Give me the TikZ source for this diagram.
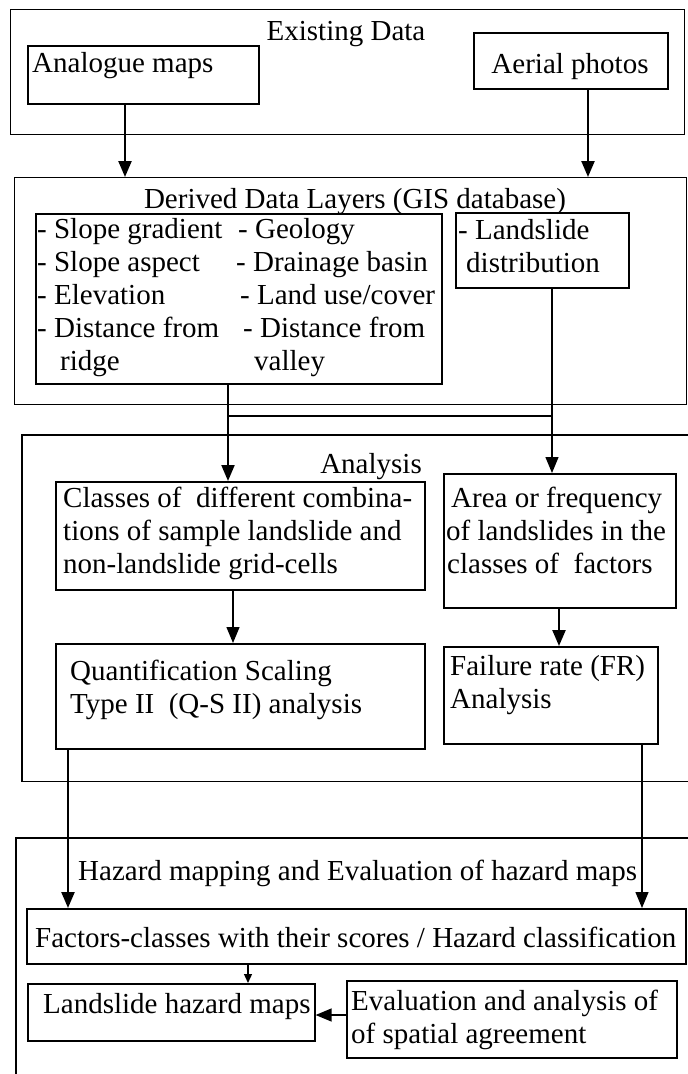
\documentclass[tikz,border=0pt]{standalone}
\usepackage{fontspec}
\setmainfont{Liberation Serif}
\usetikzlibrary{arrows.meta}
\begin{document}
\begin{tikzpicture}[x=1pt,y=-1pt,
  box/.style={draw, line width=1.6pt, inner sep=0pt, anchor=north west},
  region/.style={inner sep=0pt, anchor=north west},
  frame/.style={line width=1.1pt},
  txt/.style={inner sep=0pt, anchor=base west, font=\fontsize{29}{33}\selectfont},
  ctxt/.style={txt, anchor=base},
  etxt/.style={txt, anchor=base east},
  bigarrow/.style={line width=2.3pt, -{Triangle[length=16pt,width=13pt]}},
  thinarrow/.style={line width=1.3pt, -{Triangle[length=16pt,width=13pt]}},
  smallarrow/.style={line width=1.3pt, -{Triangle[length=9pt,width=8pt]}},
  link/.style={line width=1.3pt}]
\useasboundingbox (0,0) rectangle (688,1074);

% frames
\node[region, draw, frame, minimum width=674pt, minimum height=125pt] (existing) at (10,9) {};
\node[region, draw, frame, minimum width=672pt, minimum height=227pt] (derived) at (14,177) {};
\node[region, minimum width=666pt, minimum height=346pt] (analysis) at (22,435) {};
\draw[frame] (analysis.north east) -- (analysis.north west) -- (analysis.south west) -- (analysis.south east);
\node[region, minimum width=672pt, minimum height=236pt] (hazard) at (16,838) {};
\draw[frame] (hazard.north east) -- (hazard.north west) -- (hazard.south west);

% boxes
\node[box, minimum width=231pt, minimum height=58pt] (analogue) at (27,45) {};
\node[box, minimum width=194pt, minimum height=56pt] (aerial) at (473,32) {};
\node[box, minimum width=406pt, minimum height=170pt] (layers) at (35,213) {};
\node[box, minimum width=173pt, minimum height=75pt] (landslide) at (455,212) {};
\node[box, minimum width=369pt, minimum height=108pt] (classes) at (55,481) {};
\node[box, minimum width=232pt, minimum height=134pt] (area) at (443,473) {};
\node[box, minimum width=369pt, minimum height=105pt] (qs) at (55,643) {};
\node[box, minimum width=214pt, minimum height=97pt] (fr) at (443,646) {};
\node[box, minimum width=659pt, minimum height=55pt] (factors) at (26,908) {};
\node[box, minimum width=287pt, minimum height=57pt] (maps) at (27,983) {};
\node[box, minimum width=330pt, minimum height=77pt] (eval) at (346,980) {};

% texts
\node[ctxt] (t-existing) at (346,40) {Existing Data};
\node[txt] (t-analogue) at (32,72) {Analogue maps};
\node[ctxt] (t-aerial) at (570,73) {Aerial photos};
\node[ctxt] (t-derived) at (355,208) {Derived Data Layers (GIS database)};

\node[txt] (l1a) at (37,238) {- Slope gradient};
\node[txt] (l1b) at (238,238) {- Geology};
\node[txt] (l2a) at (37,271) {- Slope aspect};
\node[txt] (l2b) at (236,271) {- Drainage basin};
\node[txt] (l3a) at (37,304) {- Elevation};
\node[txt] (l3b) at (240,304) {- Land use/cover};
\node[txt] (l4a) at (37,337) {- Distance from};
\node[txt] (l4b) at (243,337) {- Distance from};
\node[txt] (l5a) at (60,370) {ridge};
\node[txt] (l5b) at (254,370) {valley};

\node[txt] (ls1) at (458,239) {- Landslide};
\node[txt] (ls2) at (466,272) {distribution};

\node[etxt] (t-analysis) at (422,473) {Analysis};
\node[txt] (c1) at (63,507) {Classes of\ \ different combina-};
\node[txt] (c2) at (63,540) {tions of sample landslide and};
\node[txt] (c3) at (63,573) {non-landslide grid-cells};

\node[txt] (a1) at (451,507) {Area or frequency};
\node[txt] (a2) at (446,540) {of landslides in the};
\node[txt] (a3) at (447,573) {classes of\ \ factors};

\node[txt] (q1) at (70,680) {Quantification Scaling};
\node[txt] (q2) at (70,713) {Type II\ \ (Q-S II) analysis};

\node[txt] (f1) at (450,675) {Failure rate (FR)};
\node[txt] (f2) at (450,708) {Analysis};

\node[txt] (t-hazard) at (78,880) {Hazard mapping and Evaluation of hazard maps};
\node[txt] (t-factors) at (35,947) {Factors-classes with their scores / Hazard classification};
\node[txt] (t-maps) at (43,1013) {Landslide hazard maps};
\node[txt] (e1) at (351,1010) {Evaluation and analysis of};
\node[txt] (e2) at (351,1043) {of spatial agreement};

% connector columns
\coordinate (xa) at (125,0);
\coordinate (xb) at (588,0);
\coordinate (xc) at (228,0);
\coordinate (xd) at (552,0);
\coordinate (xe) at (233,0);
\coordinate (xf) at (559,0);
\coordinate (xg) at (68,0);
\coordinate (xh) at (642,0);
\coordinate (xi) at (248,0);
\coordinate (yj) at (0,416);
\coordinate (yk) at (0,1015);
\coordinate (j1) at (xc |- yj);
\coordinate (j2) at (xd |- yj);

\draw[bigarrow] (xa |- analogue.south) -- (xa |- derived.north);
\draw[bigarrow] (xb |- aerial.south) -- (xb |- derived.north);
\draw[bigarrow, line width=2pt] (xc |- layers.south) -- (xc |- classes.north);
\draw[thinarrow] (xd |- landslide.south) -- (xd |- area.north);
\draw[link] (j1) -- (j2);
\draw[thinarrow] (xe |- classes.south) -- (xe |- qs.north);
\draw[bigarrow] (xf |- area.south) -- (xf |- fr.north);
\draw[bigarrow] (xg |- qs.south) -- (xg |- factors.north);
\draw[thinarrow] (xh |- fr.south) -- (xh |- factors.north);
\draw[smallarrow] (xi |- factors.south) -- (xi |- maps.north);
\draw[thinarrow] (eval.west |- yk) -- (maps.east |- yk);
\end{tikzpicture}
\end{document}
